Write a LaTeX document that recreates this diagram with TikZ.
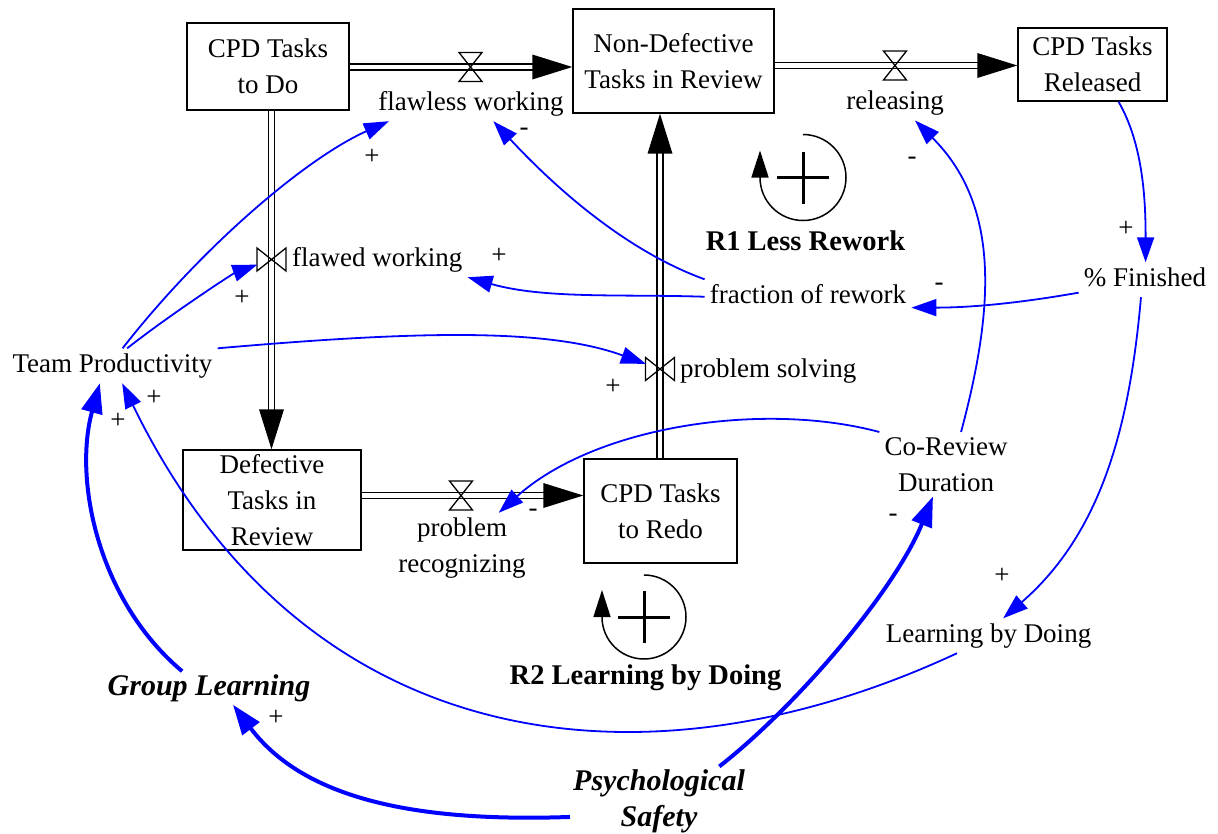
\documentclass[tikz,border=0pt]{standalone}
\usepackage{fontspec}
\setmainfont{Liberation Serif}
\usetikzlibrary{positioning,arrows.meta}

\tikzset{
  stock/.style={draw, line width=1.4pt, align=center, inner sep=0pt},
  var/.style={align=center, inner sep=5pt},
  var1/.style={var, text height=18.5pt, text depth=6pt},
  key/.style={var, inner sep=3pt, font=\fontsize{30}{36}\selectfont\bfseries\itshape},
  pipe/.style={double, double distance=4.5pt, line width=1.3pt, shorten >=38pt},
  link/.style={blue, line width=1.8pt, -{Triangle[length=25pt,width=17pt]}},
  biglink/.style={blue, line width=4pt, -{Triangle[length=30pt,width=21pt]}},
  sign/.style={inner sep=0pt},
  loopline/.style={line width=1.5pt, -{Triangle[length=27pt,width=17pt]}},
  loopplus/.style={line width=3pt},
  looptxt/.style={var1, font=\fontsize{28.5}{34}\selectfont\bfseries},
  valve/.pic={\draw[line width=1.3pt] (-11.5,14.5) -- (11.5,14.5) -- (-11.5,-14.5) -- (11.5,-14.5) -- cycle;}
}

\begin{document}
\begin{tikzpicture}[x=1pt, y=1pt, font=\fontsize{27}{36}\selectfont]
\useasboundingbox (0,0) rectangle (1218,-833);

% Stocks
\node[stock, minimum width=162pt, minimum height=87pt] (todo) at (268,-66.5) {CPD Tasks\\to Do};
\node[stock, minimum width=201pt, minimum height=104pt] (nondef) at (673.5,-61) {Non-Defective\\Tasks in Review};
\node[stock, minimum width=149pt, minimum height=73pt] (released) at (1092.5,-64.5) {CPD Tasks\\Released};
\node[stock, minimum width=178pt, minimum height=100pt] (defect) at (272,-500) {Defective\\Tasks in\\Review};
\node[stock, minimum width=153pt, minimum height=104pt] (redo) at (660.5,-511) {CPD Tasks\\to Redo};

% Valves
\coordinate (v1) at (470.5,-67);
\coordinate (v2) at (895,-65.5);
\coordinate (v3) at (271.5,-259.5);
\coordinate (v4) at (461,-495.5);
\coordinate (v5) at (660,-369);

% Flows
\draw[pipe] (todo.east |- v1) -- (nondef.west |- v1);
\fill (nondef.west |- v1) -- ++(-40,12.5) -- ++(0,-25) -- cycle;
\draw[pipe] (nondef.east |- v2) -- (released.west |- v2);
\fill (released.west |- v2) -- ++(-40,12.5) -- ++(0,-25) -- cycle;
\draw[pipe] (v3 |- todo.south) -- (v3 |- defect.north);
\fill (v3 |- defect.north) -- ++(-12.5,40) -- ++(25,0) -- cycle;
\draw[pipe] (defect.east |- v4) -- (redo.west |- v4);
\fill (redo.west |- v4) -- ++(-40,12.5) -- ++(0,-25) -- cycle;
\draw[pipe] (v5 |- redo.north) -- (v5 |- nondef.south);
\fill (v5 |- nondef.south) -- ++(-12.5,-40) -- ++(25,0) -- cycle;

\pic at (v1) {valve};
\pic at (v2) {valve};
\pic[rotate=90] at (v3) {valve};
\pic at (v4) {valve};
\pic[rotate=90] at (v5) {valve};

% Rates and auxiliaries
\node[var1] (flawless) at (471,-103.75) {flawless working};
\node[var1] (releasing) at (895,-103) {releasing};
\node[var1, anchor=west] (flawed) at (287,-259.75) {flawed working};
\node[var] (recog) at (462,-548.25) {problem\\recognizing};
\node[var1, anchor=west] (solving) at (675,-370.75) {problem solving};
\node[var1] (frac) at (808,-296.75) {fraction of rework};
\node[var1] (finished) at (1145,-279.75) {\% Finished};
\node[var1] (teamprod) at (112.5,-365.75) {Team Productivity};
\node[var] (coreview) at (946,-464.25) {Co-Review\\Duration};
\node[var1] (lbd) at (988.5,-635.75) {Learning by Doing};
\node[key] (grouplearn) at (209,-688) {Group Learning};
\node[key] (psysafe) at (659,-801.25) {Psychological\\Safety};

% Loops
\coordinate (r1c) at (803,-177.5);
\draw[loopline] (r1c) ++(90:43) arc[start angle=90, end angle=-180, radius=43] -- ++(0,27);
\draw[loopplus] ([xshift=-26pt]r1c) -- ([xshift=26pt]r1c);
\draw[loopplus] ([yshift=-26pt]r1c) -- ([yshift=26pt]r1c);
\node[looptxt] (r1) at (805.5,-243.75) {R1 Less Rework};

\coordinate (r2c) at (644,-617);
\draw[loopline] (r2c) ++(90:42) arc[start angle=90, end angle=-180, radius=42] -- ++(0,27);
\draw[loopplus] ([xshift=-26pt]r2c) -- ([xshift=26pt]r2c);
\draw[loopplus] ([yshift=-26pt]r2c) -- ([yshift=26pt]r2c);
\node[looptxt] (r2) at (645.5,-677.75) {R2 Learning by Doing};

% Causal links
\draw[link] (teamprod.60) .. controls +(52:130) and +(204:90) .. (flawless.192);
\draw[link, shorten >=15pt] (teamprod.50) .. controls +(38:60) and +(200:40) .. (v3);
\draw[link, shorten >=15pt] (teamprod.north east) .. controls +(5:200) and +(160:120) .. (v5);
\draw[link] (lbd.209) .. controls +(205:340) and +(296:420) .. (teamprod.299);
\draw[biglink] (grouplearn.148) .. controls +(140:110) and +(254.6:100) .. (teamprod.234);
\draw[biglink] (psysafe.190) .. controls +(182:150) and +(307:120) .. (grouplearn.325);
\draw[biglink] (psysafe.30) .. controls +(38:100) and +(248:100) .. (coreview.248);
\draw[link] (released.305) .. controls +(-60:50) and +(90:60) .. (finished.88);
\draw[link] (finished.191) .. controls +(190:60) and +(0:60) .. (frac.354);
\draw[link] (finished.257) .. controls +(265:130) and +(41:130) .. (lbd.50);
\draw[link] (frac.north west) .. controls +(160:90) and +(-47:80) .. (flawless.322);
\draw[link] (frac.west) .. controls +(178:80) and +(-16:80) .. (flawed.south east);
\draw[link] (coreview.65) .. controls +(75:130) and +(-45:120) .. (releasing.319);
\draw[link] (coreview.north west) .. controls +(165:120) and +(42:130) .. (recog.44);

% Polarities
\node[sign] (p1) at (372,-157) {+};
\node[sign] (m1) at (524,-132) {-};
\node[sign] (p2) at (499,-256) {+};
\node[sign] (p3) at (242,-298) {+};
\node[sign] (m2) at (939,-287) {-};
\node[sign] (p4) at (1126,-229) {+};
\node[sign] (m3) at (912,-161) {-};
\node[sign] (p5) at (613,-387) {+};
\node[sign] (p6) at (154,-398) {+};
\node[sign] (p7) at (118,-421) {+};
\node[sign] (m4) at (533,-513) {-};
\node[sign] (m5) at (893,-518) {-};
\node[sign] (p8) at (1002,-576) {+};
\node[sign] (p9) at (276,-718) {+};
\end{tikzpicture}
\end{document}
